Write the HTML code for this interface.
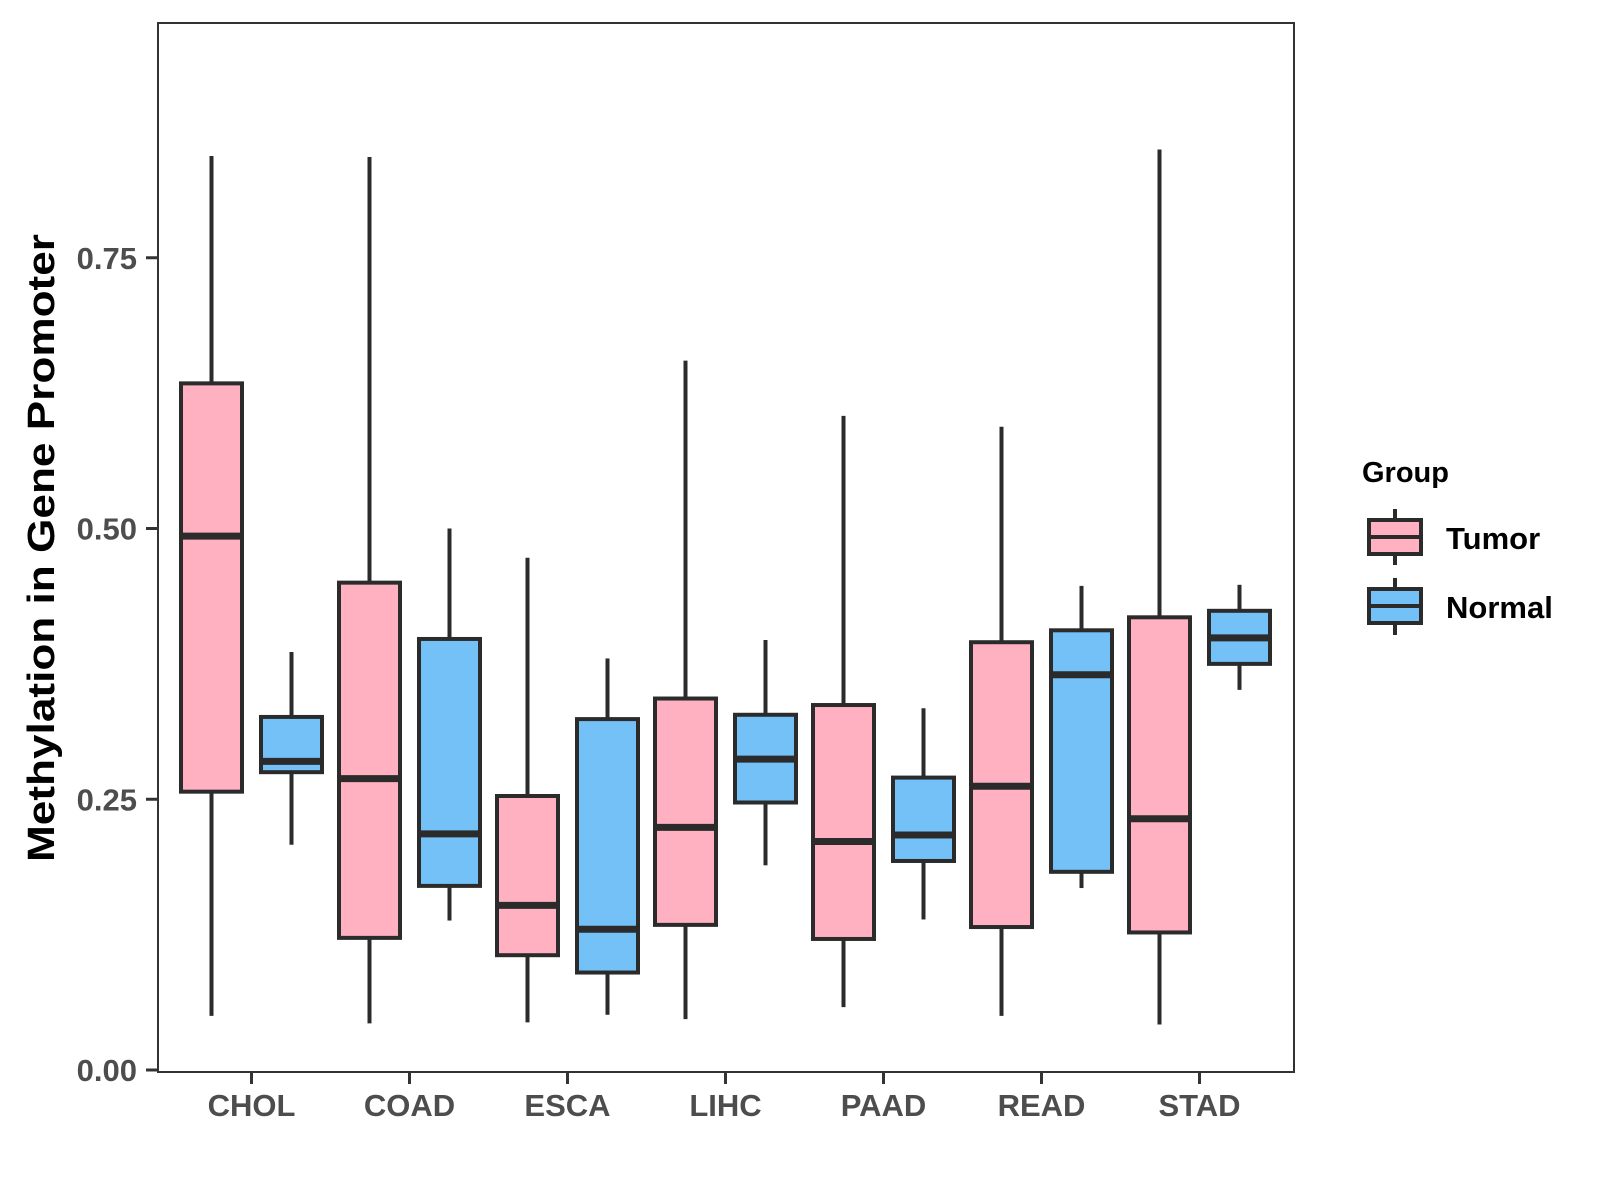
<!DOCTYPE html>
<html><head><meta charset="utf-8"><style>html,body{margin:0;padding:0;background:#fff}svg{display:block}</style></head>
<body>
<svg id="chart" width="1600" height="1200" viewBox="0 0 1600 1200" xmlns="http://www.w3.org/2000/svg" font-family="Liberation Sans, Arial, sans-serif">
<rect x="0" y="0" width="1600" height="1200" fill="#fff"/>
<g id="plot"></g>
<rect x="158" y="23" width="1136" height="1049" fill="none" stroke="#333" stroke-width="2"/>
<g id="yaxis"></g>
<g id="xaxis"></g>
<text x="0" y="0" transform="translate(54,548) rotate(-90)" text-anchor="middle" font-size="38" font-weight="bold" fill="#000" textLength="628" lengthAdjust="spacingAndGlyphs">Methylation in Gene Promoter</text>
<g>
<text x="1362" y="482" font-size="29" font-weight="bold" fill="#000">Group</text>
<g>
<line x1="1395" y1="509" x2="1395" y2="565" stroke="#2b2b2b" stroke-width="4"/>
<rect x="1369" y="520" width="52" height="34" fill="#FFB0C1" stroke="#2b2b2b" stroke-width="4"/>
<line x1="1369" y1="537" x2="1421" y2="537" stroke="#2b2b2b" stroke-width="4"/>
<text x="1446" y="549" font-size="31" font-weight="bold" fill="#000">Tumor</text>
</g>
<g>
<line x1="1395" y1="578" x2="1395" y2="635" stroke="#2b2b2b" stroke-width="4"/>
<rect x="1369" y="589" width="52" height="34" fill="#74C1F8" stroke="#2b2b2b" stroke-width="4"/>
<line x1="1369" y1="606" x2="1421" y2="606" stroke="#2b2b2b" stroke-width="4"/>
<text x="1446" y="618" font-size="31" font-weight="bold" fill="#000">Normal</text>
</g>
</g>
</svg>
<script>
const categories = ["CHOL","COAD","ESCA","LIHC","PAAD","READ","STAD"];
const groups = ["Tumor","Normal"];
// [min, q1, median, q3, max]
const tumorStats = [
  [0.050,0.257,0.493,0.634,0.844],
  [0.043,0.122,0.269,0.450,0.843],
  [0.044,0.106,0.152,0.253,0.473],
  [0.047,0.134,0.224,0.343,0.655],
  [0.058,0.121,0.211,0.337,0.604],
  [0.050,0.132,0.262,0.395,0.594],
  [0.042,0.127,0.232,0.418,0.850]
];
const normalStats = [
  [0.208,0.275,0.285,0.326,0.386],
  [0.138,0.170,0.218,0.398,0.500],
  [0.051,0.090,0.130,0.324,0.380],
  [0.189,0.247,0.287,0.328,0.397],
  [0.139,0.193,0.217,0.270,0.334],
  [0.168,0.183,0.365,0.406,0.447],
  [0.351,0.375,0.399,0.424,0.448]
];
const yTicks = [0, 0.25, 0.5, 0.75];
const yTickLabels = ["0.00","0.25","0.50","0.75"];

const NS = "http://www.w3.org/2000/svg";
function yScale(v){ return 1070 - v * 1083; }
function xScale(i){ return 251.5 + i * 158; }
const dodge = 40, boxW = 61;
function mk(tag, attrs, parent){
  const e = document.createElementNS(NS, tag);
  for (const k in attrs) e.setAttribute(k, attrs[k]);
  parent.appendChild(e);
  return e;
}
const plot = document.getElementById('plot');
const fills = ["#FFB0C1", "#74C1F8"];
[tumorStats, normalStats].forEach((series, g) => {
  series.forEach((s, i) => {
    const cx = xScale(i) + (g === 0 ? -dodge : dodge);
    const grp = mk('g', {}, plot);
    
    
    const w1 = mk('line', {x1:cx, x2:cx, y1:yScale(s[3]), y2:yScale(s[4]), stroke:'#2b2b2b', 'stroke-width':4}, grp);
    
    
    const w2 = mk('line', {x1:cx, x2:cx, y1:yScale(s[1]), y2:yScale(s[0]), stroke:'#2b2b2b', 'stroke-width':4}, grp);
    
    
    const r = mk('rect', {x:cx - boxW/2, y:yScale(s[3]), width:boxW, height:yScale(s[1]) - yScale(s[3]), fill:fills[g], stroke:'#2b2b2b', 'stroke-width':4}, grp);
    
    
    const m = mk('line', {x1:cx - boxW/2, x2:cx + boxW/2, y1:yScale(s[2]), y2:yScale(s[2]), stroke:'#2b2b2b', 'stroke-width':7}, grp);
    
    
  });
});
const yaxis = document.getElementById('yaxis');
yTicks.forEach((v, i) => {
  const y = yScale(v);
  const t = mk('line', {x1:146, x2:158, y1:y, y2:y, stroke:'#333', 'stroke-width':3}, yaxis);
  
  
  const l = mk('text', {x:137, y:y + 11, 'text-anchor':'end', 'font-size':31, 'font-weight':'bold', fill:'#4d4d4d'}, yaxis);
  l.textContent = yTickLabels[i];
  
  
});
const xaxis = document.getElementById('xaxis');
categories.forEach((c, i) => {
  const x = xScale(i);
  const t = mk('line', {x1:x, x2:x, y1:1072, y2:1084, stroke:'#333', 'stroke-width':3}, xaxis);
  
  
  const l = mk('text', {x:x, y:1116, 'text-anchor':'middle', 'font-size':31, 'font-weight':'bold', fill:'#4d4d4d'}, xaxis);
  l.textContent = c;
  
  
});
</script>
</body></html>
